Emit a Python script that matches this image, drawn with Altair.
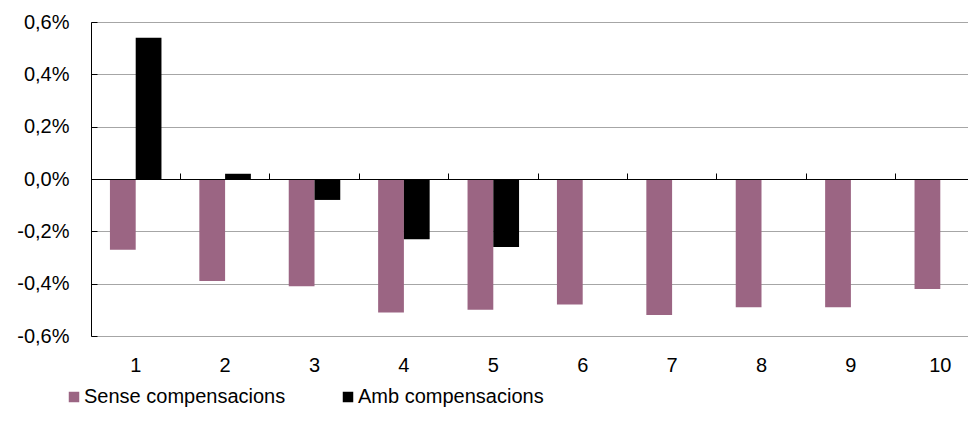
import altair as alt
import pandas as pd

categories = ["1", "2", "3", "4", "5", "6", "7", "8", "9", "10"]
series_names = ["Sense compensacions", "Amb compensacions"]
series_colors = ["#9B6583", "#000000"]
# values in percent
sense_values = [-0.27, -0.39, -0.41, -0.51, -0.50, -0.48, -0.52, -0.49, -0.49, -0.42]
amb_values = [0.54, 0.02, -0.08, -0.23, -0.26, None, None, None, None, None]
y_ticks = [-0.006, -0.004, -0.002, 0.0, 0.002, 0.004, 0.006]

rows = []
for c, s, a in zip(categories, sense_values, amb_values):
    rows.append({"cat": c, "serie": series_names[0], "value": s / 100})
    if a is not None:
        rows.append({"cat": c, "serie": series_names[1], "value": a / 100})
df = pd.DataFrame(rows)

W, H = 877, 314
X_RANGE = 894  # category axis continues past the right edge (cropped)
FONT = "Liberation Sans"
FS = 20
label_expr = "(datum.value < 0 ? '-' : '') + replace(format(abs(datum.value), '.1%'), '.', ',')"

x_scale = alt.Scale(paddingInner=0, paddingOuter=0, range=[0, X_RANGE])
y_scale = alt.Scale(domain=[-0.006, 0.006], nice=False, zero=False)

bars = alt.Chart(df).mark_bar().encode(
    x=alt.X("cat:N", sort=categories, scale=x_scale,
            axis=alt.Axis(orient="bottom", domain=False, ticks=False, tickSize=0,
                          labelPadding=19, labelAngle=0, title=None, grid=False,
                          labelFont=FONT, labelFontSize=FS, labelColor="#000000")),
    xOffset=alt.XOffset("serie:N", sort=series_names,
                        scale=alt.Scale(paddingInner=0, paddingOuter=0.735)),
    y=alt.Y("value:Q", scale=y_scale, stack=None,
            axis=alt.Axis(orient="left", values=y_ticks, labelExpr=label_expr,
                          grid=True, gridColor="#A6A6A6", gridWidth=1,
                          domain=True, domainColor="#000000", domainWidth=1,
                          ticks=False, tickSize=0, labelPadding=22, title=None,
                          labelFont=FONT, labelFontSize=FS, labelColor="#000000")),
    color=alt.Color("serie:N", sort=series_names,
                    scale=alt.Scale(domain=series_names, range=series_colors),
                    legend=alt.Legend(orient="none", direction="horizontal",
                                      legendX=-27, legendY=365, title=None,
                                      symbolType="square", symbolSize=110,
                                      symbolStrokeWidth=0, labelFont=FONT,
                                      labelFontSize=FS, labelColor="#000000",
                                      labelLimit=400, labelOffset=0,
                                      columnPadding=52)),
)

guides = alt.Chart(df).mark_bar(opacity=0).encode(
    x=alt.X("cat:N", sort=categories, scale=x_scale,
            axis=alt.Axis(orient="top", offset=-H / 2, bandPosition=0,
                          labels=False, domain=True, domainColor="#000000",
                          domainWidth=1, ticks=True, tickSize=6,
                          tickColor="#000000", grid=False, title=None, zindex=1)),
    y=alt.Y("value:Q", scale=y_scale, stack=None,
            axis=alt.Axis(orient="right", offset=-W, values=y_ticks,
                          labels=False, domain=False, ticks=True, tickSize=6,
                          tickColor="#000000", grid=False, title=None, zindex=1)),
)

chart = alt.layer(bars, guides).resolve_axis(x="independent", y="independent").properties(
    width=W, height=H, autosize="none",
    padding={"left": 83, "top": 14, "right": 0, "bottom": 75},
).configure_view(stroke=None).configure(background="#FFFFFF")

chart.save("out.html", embed_options={"renderer": "svg", "actions": False})
